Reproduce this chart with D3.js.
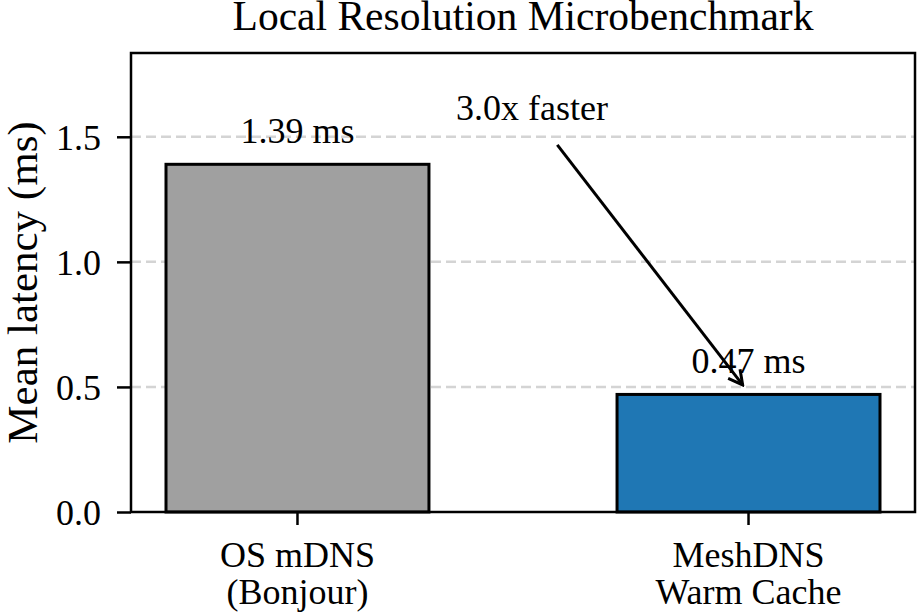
<!DOCTYPE html>
<html>
<head>
<meta charset="utf-8">
<script src="https://cdn.jsdelivr.net/npm/d3@7"></script>
<style>
  body { margin: 0; background: #fff; }
  svg { display: block; font-family: "Liberation Serif", "DejaVu Serif", serif; }
</style>
</head>
<body>
<div id="chart"></div>
<script>
// chart data
const categories = ["OS mDNS\n(Bonjour)", "MeshDNS\nWarm Cache"];
const latencies = [1.39, 0.47];
const barColors = ["#a0a0a0", "#1f77b4"];
const yTicks = [0.0, 0.5, 1.0, 1.5];
const yMax = 1.835;
// annotation: text anchor and arrow from/to (x in category index units, y in ms)
const annotText = "3.0x faster";
const annotTextPos = [0.52, 1.568];
const arrowFrom = [0.576, 1.468];
const arrowTo = [0.987, 0.508];

const W = 917, H = 615;
const margin = { top: 53, right: 2, bottom: 103, left: 131 };
const width = W - margin.left - margin.right,
      height = H - margin.top - margin.bottom;

const svg = d3.select("#chart").append("svg")
    .attr("width", W)
    .attr("height", H);

const defs = svg.append("defs");
defs.append("marker")
    .attr("id", "arrowhead")
    .attr("viewBox", "-16 -9 18 18")
    .attr("markerWidth", 18)
    .attr("markerHeight", 18)
    .attr("markerUnits", "userSpaceOnUse")
    .attr("refX", 0).attr("refY", 0)
    .attr("orient", "auto")
  .append("path")
    .attr("d", "M-14,-7.5L0,0L-14,7.5")
    .attr("fill", "none")
    .attr("stroke", "#000")
    .attr("stroke-width", 3);

const g = svg.append("g")
    .attr("transform", `translate(${margin.left},${margin.top})`);

const x = d3.scaleBand()
    .domain(categories)
    .range([0, width])
    .paddingInner(0.417)
    .paddingOuter(0.0776);

const y = d3.scaleLinear()
    .domain([0, yMax])
    .range([height, 0]);

// index -> pixel for annotations
const xIdx = d3.scaleLinear()
    .domain([0, 1])
    .range([x(categories[0]) + x.bandwidth() / 2, x(categories[1]) + x.bandwidth() / 2]);

// grid
g.append("g")
  .selectAll("line")
  .data(yTicks.filter(d => d > 0))
  .enter().append("line")
    .attr("x1", 0).attr("x2", width)
    .attr("y1", d => y(d)).attr("y2", d => y(d))
    .attr("stroke", "#d4d4d4")
    .attr("stroke-width", 2.5)
    .attr("stroke-dasharray", "10,5");

// bars
g.selectAll(".bar")
  .data(latencies)
  .enter().append("rect")
    .attr("class", "bar")
    .attr("x", (d, i) => x(categories[i]))
    .attr("width", x.bandwidth())
    .attr("y", d => y(d))
    .attr("height", d => height - y(d))
    .attr("fill", (d, i) => barColors[i])
    .attr("stroke", "#000")
    .attr("stroke-width", 3);

// value labels
g.selectAll(".val")
  .data(latencies)
  .enter().append("text")
    .attr("class", "val")
    .attr("x", (d, i) => x(categories[i]) + x.bandwidth() / 2)
    .attr("y", d => y(d) - 21)
    .attr("text-anchor", "middle")
    .attr("font-size", 36)
    .text(d => `${d.toFixed(2)} ms`);

// annotation
g.append("line")
    .attr("x1", xIdx(arrowFrom[0])).attr("y1", y(arrowFrom[1]))
    .attr("x2", xIdx(arrowTo[0])).attr("y2", y(arrowTo[1]))
    .attr("stroke", "#000")
    .attr("stroke-width", 3)
    .attr("marker-end", "url(#arrowhead)");

g.append("text")
    .attr("x", xIdx(annotTextPos[0]))
    .attr("y", y(annotTextPos[1]))
    .attr("text-anchor", "middle")
    .attr("font-size", 36)
    .text(annotText);

// y axis
const yAxis = g.append("g")
    .call(d3.axisLeft(y).tickValues(yTicks).tickFormat(d3.format(".1f")).tickSize(14).tickPadding(16));
yAxis.select(".domain").remove();
yAxis.selectAll("line").attr("stroke-width", 2.5);
yAxis.selectAll("text").attr("font-size", 36).attr("font-family", "Liberation Serif").attr("fill", "#000").attr("dy", "0.34em");

// x axis
const xAxis = g.append("g")
    .attr("transform", `translate(0,${height})`)
    .call(d3.axisBottom(x).tickSize(13).tickFormat(""));
xAxis.select(".domain").remove();
xAxis.selectAll("line").attr("stroke-width", 2.5);
xAxis.selectAll(".tick").each(function(d) {
  const t = d3.select(this).append("text")
      .attr("text-anchor", "middle")
      .attr("font-size", 36)
      .attr("fill", "#000")
      .attr("font-family", "Liberation Serif");
  d.split("\n").forEach((line, i) => {
    t.append("tspan").attr("x", 0).attr("y", 55 + i * 36.5).text(line);
  });
});

// frame
g.append("rect")
    .attr("x", 0).attr("y", 0)
    .attr("width", width).attr("height", height)
    .attr("fill", "none")
    .attr("stroke", "#000")
    .attr("stroke-width", 2.5);

// title
svg.append("text")
    .attr("x", margin.left + width / 2)
    .attr("y", 30)
    .attr("text-anchor", "middle")
    .attr("font-size", 41.5)
    .text("Local Resolution Microbenchmark");

// y label
svg.append("text")
    .attr("transform", `translate(37,${margin.top + height / 2}) rotate(-90)`)
    .attr("text-anchor", "middle")
    .attr("font-size", 43)
    .text("Mean latency (ms)");
</script>
</body>
</html>
